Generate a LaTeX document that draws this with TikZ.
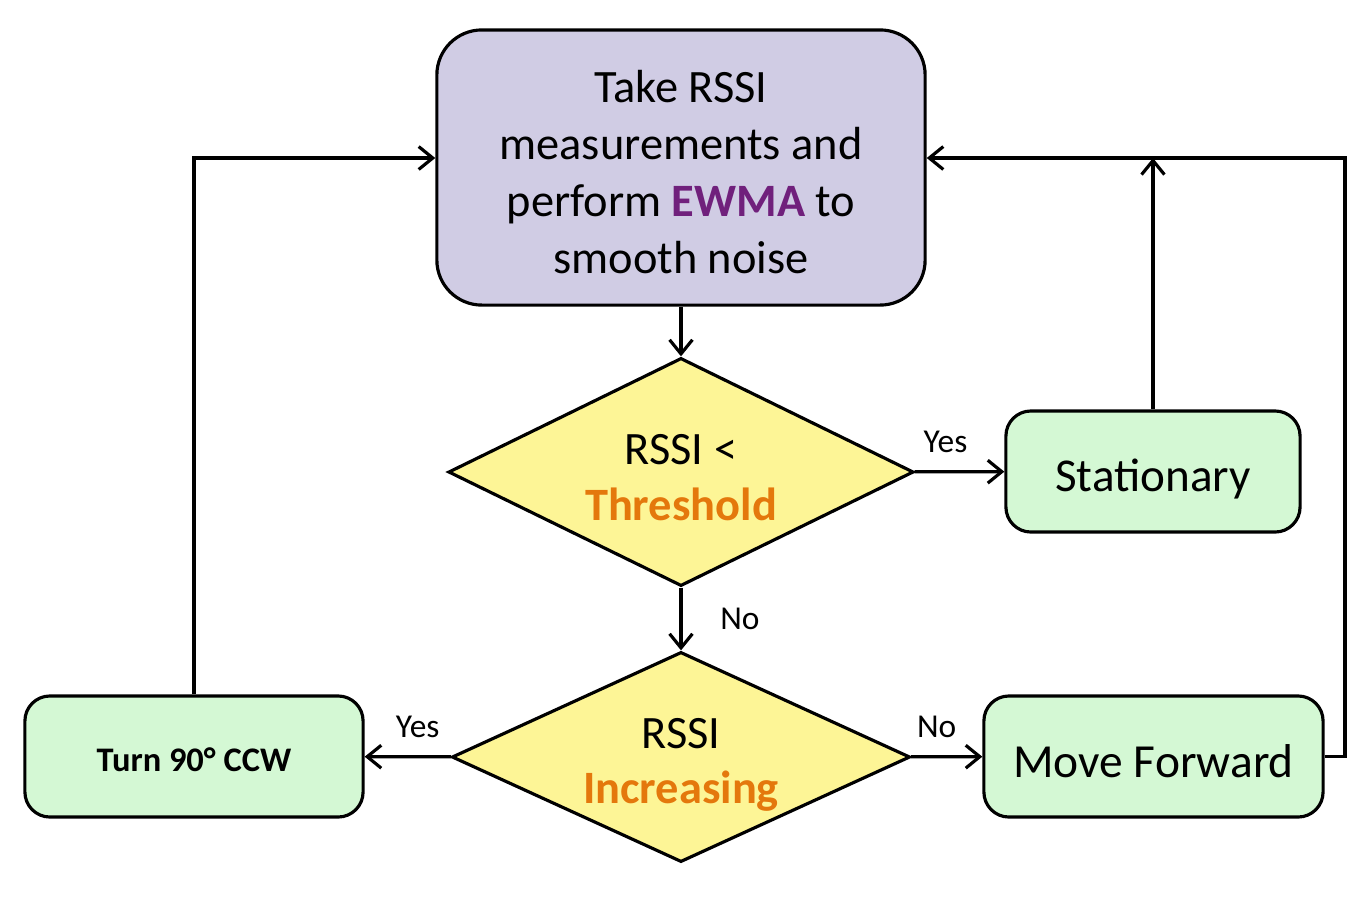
\documentclass[tikz,border=0pt]{standalone}
\usepackage{fontspec}
\setmainfont{Carlito}
\usetikzlibrary{shapes,arrows,arrows.meta,calc}
\definecolor{boxpurple}{RGB}{208,204,228}
\definecolor{boxgreen}{RGB}{212,248,212}
\definecolor{boxyellow}{RGB}{253,245,150}
\definecolor{ewma}{RGB}{112,32,124}
\definecolor{thresh}{RGB}{228,120,12}
\newcommand{\lift}[1]{\rule{0pt}{#1}}

\begin{document}
\begin{tikzpicture}[x=0.01cm,y=-0.01cm,line width=0.9pt,>={Straight Barb[length=4pt,width=6.5pt]},
    mainbox/.style={draw,rounded corners=0.45cm,fill=boxpurple,minimum width=4.88cm,minimum height=2.75cm,align=center,font=\fontsize{13.2}{16.2}\selectfont},
    actbox/.style={draw,rounded corners=0.25cm,fill=boxgreen,minimum height=1.21cm,align=center},
    decide/.style={draw,diamond,aspect=2.1,inner sep=0pt,fill=boxyellow,align=center,font=\fontsize{13.2}{15.8}\selectfont},
    lbl/.style={font=\fontsize{9.5}{11}\selectfont}]
    \useasboundingbox (0,0) rectangle (1347,908);

    \node[mainbox] (meas) at (681,167.5) {\lift{12pt}Take RSSI\\measurements and\\perform \textbf{\textcolor{ewma}{EWMA}} to\\smooth noise};
    \node[decide,minimum width=4.65cm,minimum height=2.28cm] (thr) at (681,472) {\lift{11.9pt}RSSI <\\\textbf{\textcolor{thresh}{Threshold}}};
    \node[decide,minimum width=4.58cm,minimum height=2.10cm] (inc) at (681,757) {\lift{13.1pt}RSSI\\\textbf{\textcolor{thresh}{Increasing}}};
    \node[actbox,minimum width=2.94cm,font=\fontsize{13.4}{15}\selectfont] (stat) at (1153,471.5) {\lift{13.8pt}Stationary};
    \node[actbox,minimum width=3.39cm,font=\fontsize{13.5}{15}\selectfont] (fwd) at (1153.5,756.5) {\lift{11.8pt}Move Forward};
    \node[actbox,minimum width=3.38cm,font=\fontsize{9.8}{11}\selectfont\bfseries] (turn) at (194,756.5) {\lift{8.4pt}Turn 90° CCW};

    \coordinate (inL) at ($(meas.west)+(0,-9.5)$);
    \coordinate (inR) at ($(meas.east)+(0,-9.5)$);
    \coordinate (edge) at (1345,0);

    \draw[->] (meas) -- (thr);
    \draw[->] (thr) -- node[lbl,right,xshift=0.26cm] {No} (inc);
    \draw[->] (thr) -- node[lbl,above,xshift=-0.14cm,yshift=0.06cm] {Yes} (stat);
    \draw[->] (inc) -- node[lbl,above,xshift=0.1cm,yshift=0.06cm] {Yes} (turn);
    \draw[->] (inc) -- node[lbl,above,xshift=-0.1cm,yshift=0.06cm] {No} (fwd);

    \draw[->] (turn.north) |- (inL);
    \draw[->] (stat.north) -- (stat.north |- inR);
    \draw[->] (fwd.east) -- (edge |- fwd.east) -- (edge |- inR) -- (inR);
\end{tikzpicture}
\end{document}
